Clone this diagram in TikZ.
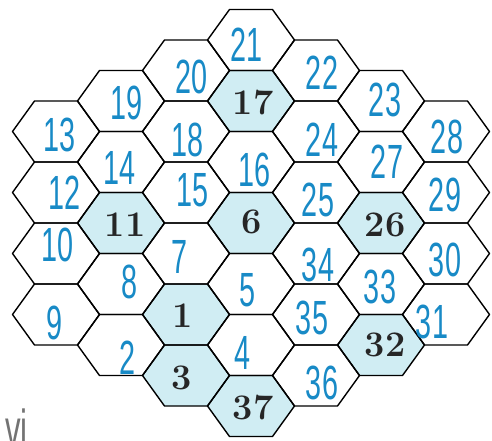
\documentclass[tikz,border=0pt]{standalone}
\usepackage{fontspec}
\newfontfamily\handfont[FakeStretch=0.6]{Liberation Sans}
\definecolor{penblue}{RGB}{24,138,198}
\definecolor{cellcyan}{RGB}{208,237,243}

\begin{document}
\begin{tikzpicture}[
    x=1pt, y=-1pt,
    cell/.style={draw=black, line width=1.4pt, line join=round},
    shaded/.style={fill=cellcyan},
    printed/.style={font=\bfseries\fontsize{36}{36}\selectfont, text=black!85, inner sep=0pt},
    hand/.style={font=\handfont\fontsize{48}{48}\selectfont, text=penblue, inner sep=0pt},
]
\useasboundingbox (0,0) rectangle (492,441);

% Cell centres, one column at a time (top to bottom)
\foreach \i/\cells in {-3/{13,12,10,9}, -2/{19,14,11,8,2}, -1/{20,18,15,7,1,3},
    0/{21,17,16,6,5,4,37}, 1/{22,24,25,34,35,36}, 2/{23,27,26,33,32}, 3/{28,29,30,31}} {
  \foreach \num [count=\j from 0] in \cells {
    \coordinate (c\num) at ({251+65*\i}, {40+30.5*abs(\i)+61*\j});
  }
}

% Coloured cells
\foreach \num in {17,11,6,26,1,32,3,37}
  \fill[shaded] (c\num) ++(-43.5,0) -- ++(22,-30.5) -- ++(43,0) -- ++(22,30.5) -- ++(-22,30.5) -- ++(-43,0) -- cycle;

% Hexagon outlines
\foreach \num in {1,...,37}
  \draw[cell] (c\num) ++(-43.5,0) -- ++(22,-30.5) -- ++(43,0) -- ++(22,30.5) -- ++(-22,30.5) -- ++(-43,0) -- cycle;

% Printed numbers
\node[printed] (n17) at ([shift={(2,2)}]c17) {17};
\node[printed] (n11) at ([shift={(4,2)}]c11) {11};
\node[printed] (n6) at ([shift={(1,-1)}]c6) {6};
\node[printed] (n26) at ([shift={(4,2)}]c26) {26};
\node[printed] (n1) at ([shift={(-3,1.5)}]c1) {1};
\node[printed] (n32) at ([shift={(4,0)}]c32) {32};
\node[printed] (n3) at ([shift={(-4,2.5)}]c3) {3};
\node[printed] (n37) at ([shift={(2,2)}]c37) {37};

% Handwritten numbers
\node[hand] (n21) at ([shift={(-4,5)}]c21) {21};
\node[hand] (n20) at ([shift={(6,6.5)}]c20) {20};
\node[hand] (n22) at ([shift={(6,2.5)}]c22) {22};
\node[hand] (n19) at ([shift={(6,2)}]c19) {19};
\node[hand] (n23) at ([shift={(4,-1)}]c23) {23};
\node[hand] (n13) at ([shift={(4,3)}]c13) {13};
\node[hand] (n18) at ([shift={(2,8.5)}]c18) {18};
\node[hand] (n24) at ([shift={(6,8.5)}]c24) {24};
\node[hand] (n28) at ([shift={(1,5.5)}]c28) {28};
\node[hand] (n14) at ([shift={(-1,6)}]c14) {14};
\node[hand] (n16) at ([shift={(4,8)}]c16) {16};
\node[hand] (n27) at ([shift={(6,0)}]c27) {27};
\node[hand] (n12) at ([shift={(9,0)}]c12) {12};
\node[hand] (n15) at ([shift={(7,-2.5)}]c15) {15};
\node[hand] (n25) at ([shift={(2,7.5)}]c25) {25};
\node[hand] (n29) at ([shift={(-1,2.5)}]c29) {29};
\node[hand] (n10) at ([shift={(2,-8.5)}]c10) {10};
\node[hand] (n7) at ([shift={(-6,3.5)}]c7) {7};
\node[hand] (n34) at ([shift={(2,11.5)}]c34) {34};
\node[hand] (n30) at ([shift={(-1,6.5)}]c30) {30};
\node[hand] (n8) at ([shift={(9,-2)}]c8) {8};
\node[hand] (n5) at ([shift={(-3,6)}]c5) {5};
\node[hand] (n33) at ([shift={(-1,3)}]c33) {33};
\node[hand] (n9) at ([shift={(-1,8.5)}]c9) {9};
\node[hand] (n35) at ([shift={(-4,3.5)}]c35) {35};
\node[hand] (n31) at ([shift={(-14,7.5)}]c31) {31};
\node[hand] (n2) at ([shift={(7,13)}]c2) {2};
\node[hand] (n4) at ([shift={(-8,8)}]c4) {4};
\node[hand] (n36) at ([shift={(6,7.5)}]c36) {36};

% Scribble in the corner
\node[hand, text=black!55, font=\handfont\fontsize{52}{52}\selectfont, anchor=base west] (note) at (5,446) {vi};

\end{tikzpicture}
\end{document}
